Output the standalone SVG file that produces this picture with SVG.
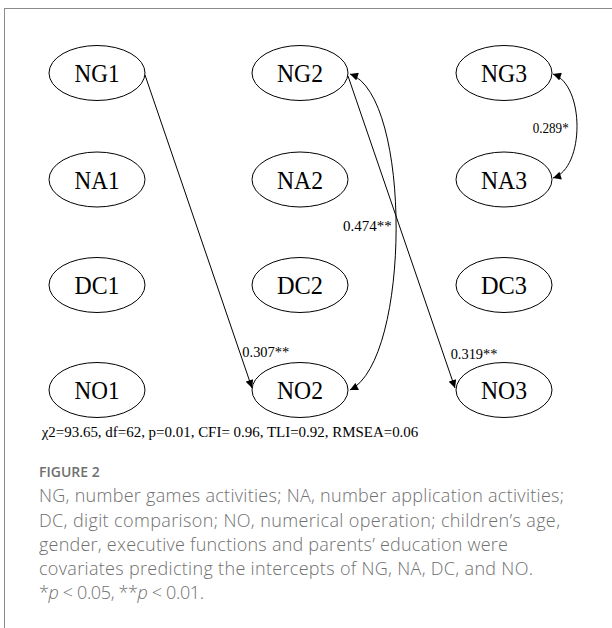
<svg xmlns="http://www.w3.org/2000/svg" width="612" height="628" viewBox="0 0 612 628">
<style>
.node ellipse{fill:#fff;stroke:#000;stroke-width:1}
.node text{font-family:"Liberation Serif","Times New Roman",serif;font-size:26px;fill:#000;text-anchor:middle}
.edge{fill:none;stroke:#000;stroke-width:1}
.lbl{font-family:"Liberation Serif","Times New Roman",serif;font-size:14px;fill:#000}
.fit{font-family:"Liberation Serif","Times New Roman",serif;font-size:15px;fill:#000}
.cap{font-family:"Open Sans","Noto Sans",sans-serif;font-size:18px;fill:#707070;font-weight:300}
.figt{font-family:"Open Sans","Noto Sans",sans-serif;font-size:14px;fill:#707070;font-weight:600}
</style>
<defs>
<marker id="ah" viewBox="0 0 10 10" refX="10" refY="5" markerWidth="9" markerHeight="8" markerUnits="userSpaceOnUse" orient="auto-start-reverse">
<path d="M0,0 L10,5 L0,10 z" fill="#000"/>
</marker>
</defs>
<rect x="4.5" y="8.5" width="700" height="700" fill="none" stroke="#8a8a8a" stroke-width="1"/>
<g id="connectors">
<path class="edge" d="M145,75 L252,388" marker-end="url(#ah)"/>
<path class="edge" d="M348,76 L455,388" marker-end="url(#ah)"/>
<path class="edge" d="M350,74 C412,95 411,360 350,390" marker-start="url(#ah)" marker-end="url(#ah)"/>
<path class="edge" d="M553,74 C585,85 585,168 553,178" marker-start="url(#ah)" marker-end="url(#ah)"/>
</g>
<g id="labels">
<text class="lbl" x="532.7" y="133" textLength="36" lengthAdjust="spacingAndGlyphs">0.289*</text>
<text class="lbl" x="343" y="231" textLength="48.7" lengthAdjust="spacingAndGlyphs">0.474**</text>
<text class="lbl" x="242.3" y="357.3" textLength="47" lengthAdjust="spacingAndGlyphs">0.307**</text>
<text class="lbl" x="450.7" y="359" textLength="46.7" lengthAdjust="spacingAndGlyphs">0.319**</text>
</g>
<g id="NG1" class="node"><ellipse cx="97" cy="73" rx="48" ry="27.5"/><text x="97" y="82" textLength="45" lengthAdjust="spacingAndGlyphs">NG1</text></g>
<g id="NG2" class="node"><ellipse cx="300" cy="73" rx="48" ry="27.5"/><text x="300" y="82" textLength="46" lengthAdjust="spacingAndGlyphs">NG2</text></g>
<g id="NG3" class="node"><ellipse cx="504" cy="73" rx="48" ry="27.5"/><text x="504" y="82" textLength="46" lengthAdjust="spacingAndGlyphs">NG3</text></g>
<g id="NA1" class="node"><ellipse cx="97" cy="179.5" rx="48" ry="27.5"/><text x="97" y="188.5" textLength="45" lengthAdjust="spacingAndGlyphs">NA1</text></g>
<g id="NA2" class="node"><ellipse cx="300" cy="179.5" rx="48" ry="27.5"/><text x="300" y="188.5" textLength="46" lengthAdjust="spacingAndGlyphs">NA2</text></g>
<g id="NA3" class="node"><ellipse cx="504" cy="179.5" rx="48" ry="27.5"/><text x="504" y="188.5" textLength="46" lengthAdjust="spacingAndGlyphs">NA3</text></g>
<g id="DC1" class="node"><ellipse cx="97" cy="285" rx="48" ry="27.5"/><text x="97" y="294" textLength="45" lengthAdjust="spacingAndGlyphs">DC1</text></g>
<g id="DC2" class="node"><ellipse cx="300" cy="285" rx="48" ry="27.5"/><text x="300" y="294" textLength="46" lengthAdjust="spacingAndGlyphs">DC2</text></g>
<g id="DC3" class="node"><ellipse cx="504" cy="285" rx="48" ry="27.5"/><text x="504" y="294" textLength="46" lengthAdjust="spacingAndGlyphs">DC3</text></g>
<g id="NO1" class="node"><ellipse cx="97" cy="390" rx="48" ry="27.5"/><text x="97" y="399" textLength="45" lengthAdjust="spacingAndGlyphs">NO1</text></g>
<g id="NO2" class="node"><ellipse cx="300" cy="390" rx="48" ry="27.5"/><text x="300" y="399" textLength="46" lengthAdjust="spacingAndGlyphs">NO2</text></g>
<g id="NO3" class="node"><ellipse cx="504" cy="390" rx="48" ry="27.5"/><text x="504" y="399" textLength="46" lengthAdjust="spacingAndGlyphs">NO3</text></g>
<text class="fit" x="41.7" y="436.7" textLength="376.6" lengthAdjust="spacingAndGlyphs">χ2=93.65, df=62, p=0.01, CFI= 0.96, TLI=0.92, RMSEA=0.06</text>
<text class="figt" x="39" y="477">FIGURE 2</text>
<text class="cap" x="39" y="502.3" textLength="525" lengthAdjust="spacing">NG, number games activities; NA, number application activities;</text>
<text class="cap" x="39" y="526.7" textLength="521" lengthAdjust="spacing">DC, digit comparison; NO, numerical operation; children’s age,</text>
<text class="cap" x="39" y="551" textLength="469" lengthAdjust="spacing">gender, executive functions and parents’ education were</text>
<text class="cap" x="39" y="575" textLength="494" lengthAdjust="spacing">covariates predicting the intercepts of NG, NA, DC, and NO.</text>
<text class="cap" x="39" y="599" textLength="165" lengthAdjust="spacing">*<tspan font-style="italic">p</tspan> &lt; 0.05, **<tspan font-style="italic">p</tspan> &lt; 0.01.</text>
</svg>
